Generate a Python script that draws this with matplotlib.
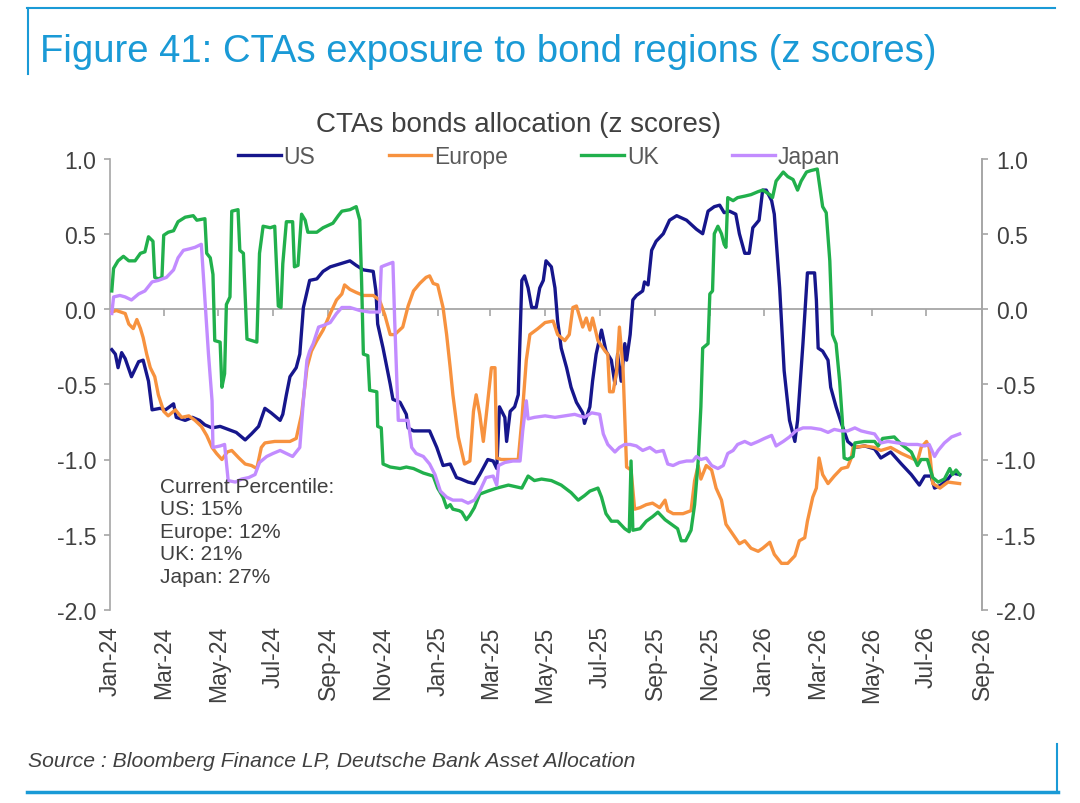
import numpy as np
import pandas as pd
import matplotlib
matplotlib.use("Agg")
import matplotlib.pyplot as plt
import matplotlib.dates as mdates
from matplotlib.lines import Line2D

plt.rcParams['font.family'] = ['Liberation Sans', 'DejaVu Sans']

# ---- data: days since 2024-01-01 and z scores ----
us_day = [2,6,9,13,17,24,32,37,43,47,56,62,71,74,84,92,100,106,114,123,132,141,151,158,166,173,180,190,193,197,201,208,212,216,223,231,238,246,257,268,275,283,294,297,299,305,309,313,316,324,331,333,339,346,357,365,372,380,387,392,400,407,413,422,428,432,435,441,443,447,452,456,460,463,467,471,476,480,484,487,493,497,500,504,510,515,521,528,530,536,539,543,549,554,560,564,567,571,575,577,581,584,588,595,597,601,605,610,618,625,633,644,655,662,668,675,681,686,692,699,703,709,714,718,725,729,733,739,742,748,753,759,765,768,774,779,787,789,791,796,802,805,811,817,824,832,843,854,861,872,884,895,904,910,917,921,928,936,941,949]
us_val = [-0.27,-0.30,-0.39,-0.29,-0.33,-0.45,-0.35,-0.34,-0.48,-0.67,-0.66,-0.67,-0.63,-0.72,-0.74,-0.72,-0.74,-0.77,-0.79,-0.78,-0.80,-0.82,-0.87,-0.83,-0.78,-0.66,-0.69,-0.74,-0.70,-0.57,-0.45,-0.39,-0.30,0.01,0.19,0.20,0.25,0.28,0.30,0.32,0.29,0.26,0.25,0.12,-0.10,-0.26,-0.38,-0.50,-0.60,-0.62,-0.70,-0.79,-0.81,-0.81,-0.81,-0.92,-1.04,-1.03,-1.12,-1.13,-1.15,-1.16,-1.10,-1.00,-1.01,-1.06,-0.65,-0.72,-0.88,-0.68,-0.65,-0.57,0.19,0.22,0.14,0.01,0.01,0.14,0.19,0.32,0.28,0.14,-0.08,-0.26,-0.39,-0.52,-0.62,-0.69,-0.76,-0.65,-0.48,-0.30,-0.14,-0.28,-0.34,-0.50,-0.30,-0.48,-0.23,-0.34,-0.17,0.06,0.09,0.12,0.18,0.16,0.39,0.45,0.50,0.59,0.62,0.59,0.53,0.50,0.65,0.68,0.69,0.64,0.65,0.63,0.50,0.37,0.37,0.54,0.59,0.79,0.79,0.72,0.63,0.14,-0.41,-0.74,-0.88,-0.74,-0.23,0.24,0.24,0.06,-0.26,-0.28,-0.34,-0.52,-0.65,-0.76,-0.88,-0.92,-0.91,-0.93,-0.99,-0.95,-1.03,-1.10,-1.17,-1.11,-1.11,-1.19,-1.17,-1.13,-1.09,-1.10]

europe_day = [2,7,17,21,26,30,34,37,41,45,50,54,60,65,73,80,88,95,102,108,114,119,125,131,136,144,151,158,164,169,173,184,195,201,208,214,220,225,231,238,246,253,259,262,268,275,283,294,301,307,313,318,327,333,339,346,353,357,361,366,372,376,380,383,389,396,402,406,409,413,417,420,426,430,432,437,456,460,465,469,478,486,495,500,508,513,517,521,525,528,532,536,539,545,553,556,558,562,566,569,573,577,582,586,592,599,606,614,620,623,629,640,649,653,657,660,666,672,677,683,688,696,703,709,716,724,729,737,742,750,757,765,770,776,779,785,789,792,796,802,809,817,824,828,830,843,854,861,872,884,895,902,906,912,915,919,927,936,949]
europe_val = [-0.02,-0.01,-0.03,-0.10,-0.13,-0.07,-0.13,-0.19,-0.30,-0.39,-0.45,-0.57,-0.68,-0.71,-0.67,-0.72,-0.71,-0.74,-0.78,-0.84,-0.92,-0.96,-1.00,-0.95,-0.94,-0.99,-1.03,-1.04,-1.06,-0.92,-0.89,-0.88,-0.88,-0.88,-0.86,-0.70,-0.39,-0.28,-0.21,-0.14,-0.03,0.06,0.10,0.16,0.13,0.11,0.09,0.09,0.06,-0.04,-0.17,-0.17,-0.12,0.02,0.12,0.17,0.21,0.22,0.17,0.16,0.01,-0.17,-0.39,-0.57,-0.85,-1.03,-1.01,-0.68,-0.57,-0.70,-0.88,-0.72,-0.39,-0.39,-0.99,-1.00,-1.00,-0.74,-0.34,-0.17,-0.13,-0.09,-0.08,-0.17,-0.21,-0.17,0.01,0.02,-0.06,-0.12,-0.06,-0.14,-0.06,-0.21,-0.28,-0.30,-0.55,-0.55,-0.41,-0.12,-0.39,-1.05,-1.07,-1.33,-1.32,-1.30,-1.29,-1.32,-1.27,-1.34,-1.36,-1.36,-1.34,-1.14,-1.04,-1.13,-1.04,-1.07,-1.19,-1.27,-1.43,-1.50,-1.56,-1.54,-1.59,-1.61,-1.59,-1.55,-1.63,-1.69,-1.69,-1.64,-1.54,-1.52,-1.41,-1.25,-1.19,-0.99,-1.10,-1.16,-1.11,-1.06,-1.05,-0.99,-0.92,-0.91,-0.92,-0.94,-0.92,-0.96,-0.99,-1.01,-0.92,-0.88,-0.92,-1.16,-1.19,-1.15,-1.16]

uk_day = [2,4,9,15,21,28,34,39,43,48,50,54,58,60,65,71,76,84,93,97,106,108,112,115,117,123,125,128,130,134,136,143,145,149,153,164,167,171,179,184,188,191,193,197,204,206,210,214,218,221,231,238,249,255,259,268,275,279,281,283,288,290,298,299,303,305,313,324,331,339,350,361,366,372,376,380,383,390,393,398,402,407,413,422,432,445,460,467,474,482,493,504,515,523,530,536,545,549,554,560,567,575,580,582,584,592,599,606,612,620,627,634,638,643,649,653,657,660,662,668,670,673,675,679,683,686,688,690,696,701,709,716,724,729,737,740,744,752,757,763,768,772,778,783,790,796,800,804,807,811,815,818,820,824,830,832,843,854,858,863,876,884,895,902,906,913,919,925,932,938,941,945,949]
uk_val = [0.12,0.27,0.32,0.35,0.32,0.32,0.37,0.38,0.48,0.45,0.21,0.20,0.21,0.49,0.51,0.52,0.58,0.61,0.62,0.59,0.60,0.37,0.34,0.23,-0.21,-0.22,-0.52,-0.43,0.03,0.08,0.65,0.66,0.39,0.37,-0.20,-0.22,0.37,0.55,0.54,0.55,0.02,0.01,0.30,0.58,0.58,0.28,0.29,0.63,0.59,0.51,0.51,0.54,0.57,0.62,0.65,0.66,0.68,0.59,0.19,-0.30,-0.31,-0.54,-0.55,-0.78,-0.79,-1.03,-1.05,-1.06,-1.05,-1.06,-1.09,-1.11,-1.19,-1.25,-1.32,-1.30,-1.33,-1.34,-1.35,-1.40,-1.37,-1.32,-1.23,-1.21,-1.19,-1.17,-1.19,-1.11,-1.14,-1.13,-1.14,-1.17,-1.22,-1.27,-1.24,-1.21,-1.19,-1.25,-1.36,-1.41,-1.41,-1.46,-1.48,-1.01,-1.47,-1.46,-1.41,-1.38,-1.35,-1.40,-1.43,-1.46,-1.54,-1.54,-1.47,-1.30,-1.01,-0.65,-0.26,-0.23,0.10,0.12,0.50,0.55,0.50,0.43,0.41,0.74,0.72,0.74,0.75,0.76,0.78,0.79,0.76,0.74,0.85,0.91,0.88,0.86,0.79,0.85,0.91,0.92,0.93,0.68,0.64,0.32,-0.17,-0.23,-0.48,-0.74,-0.99,-1.00,-0.98,-0.89,-0.88,-0.88,-0.91,-0.86,-0.85,-0.90,-0.95,-1.04,-1.00,-1.00,-1.12,-1.15,-1.13,-1.06,-1.10,-1.07,-1.10]

japan_day = [2,4,11,17,24,32,39,47,54,63,71,76,82,89,95,102,106,110,114,115,123,128,132,140,147,155,162,167,175,182,190,197,204,212,216,220,223,227,233,238,246,253,259,268,279,290,301,303,307,316,318,320,322,333,337,342,350,357,363,369,376,383,393,400,407,413,420,428,432,434,441,450,458,461,465,467,474,486,497,508,519,530,538,547,551,556,564,569,575,581,588,595,603,610,618,623,629,636,644,651,655,660,666,672,679,685,690,696,701,709,716,724,731,739,744,752,759,766,774,783,794,802,809,817,824,832,839,846,854,861,869,880,891,902,910,915,921,925,932,940,949]
japan_val = [-0.03,0.08,0.09,0.08,0.06,0.10,0.12,0.18,0.19,0.21,0.26,0.34,0.39,0.40,0.41,0.43,0.06,-0.30,-0.61,-0.92,-0.91,-0.90,-1.14,-1.15,-1.13,-1.12,-1.10,-1.02,-0.98,-0.96,-0.94,-0.96,-0.98,-0.92,-0.61,-0.34,-0.28,-0.23,-0.12,-0.11,-0.09,-0.03,0.01,0.01,-0.01,-0.02,-0.02,0.28,0.29,0.31,-0.08,-0.41,-0.74,-0.74,-0.92,-0.96,-0.98,-1.03,-1.10,-1.21,-1.25,-1.27,-1.27,-1.29,-1.27,-1.21,-1.12,-1.11,-1.17,-1.04,-1.02,-1.01,-1.01,-0.81,-0.61,-0.73,-0.72,-0.71,-0.72,-0.71,-0.70,-0.72,-0.69,-0.70,-0.83,-0.90,-0.95,-0.92,-0.90,-0.90,-0.91,-0.94,-0.92,-0.95,-0.94,-1.03,-1.04,-1.02,-1.01,-1.01,-0.98,-1.00,-0.99,-1.04,-1.06,-1.04,-0.96,-0.94,-0.90,-0.88,-0.90,-0.88,-0.86,-0.84,-0.91,-0.88,-0.85,-0.81,-0.79,-0.79,-0.80,-0.82,-0.80,-0.81,-0.81,-0.79,-0.81,-0.82,-0.83,-0.89,-0.88,-0.89,-0.90,-0.90,-0.91,-0.90,-0.98,-0.94,-0.89,-0.85,-0.83]

series_names = ['US', 'Europe', 'UK', 'Japan']
series_colors = ['#16168c', '#f7923f', '#21b04c', '#c28cff']
percentiles = ['US: 15%', 'Europe: 12%', 'UK: 21%', 'Japan: 27%']
y_ticks = [-2.0, -1.5, -1.0, -0.5, 0.0, 0.5, 1.0]

base = pd.Timestamp('2024-01-01')
def to_dates(days):
    return base + pd.to_timedelta(np.array(days), unit='D')

series = [(us_day, us_val), (europe_day, europe_val), (uk_day, uk_val), (japan_day, japan_val)]

W, H = 1080, 804
fig = plt.figure(figsize=(W / 100, H / 100), dpi=100)
fig.patch.set_facecolor('white')

ax = fig.add_axes([110 / W, 1 - 611 / H, (982 - 110) / W, (611 - 159.5) / H])
gray = '#a6a6a6'
txt = '#404040'

ax.axhline(0, color=gray, lw=1.3, zorder=1)
tick_dates = pd.date_range('2024-03-01', '2026-09-01', freq='2MS')
ax.plot(tick_dates, np.zeros(len(tick_dates)), ls='none', marker=3, ms=5,
        mew=1.2, color=gray, zorder=1)

handles = []
for (d, v), name, col in zip(series, series_names, series_colors):
    ln, = ax.plot(to_dates(d), v, color=col, lw=2.4, label=name, zorder=3,
                  solid_joinstyle='round')
    handles.append(ln)

ax.set_xlim(pd.Timestamp('2024-01-01'), pd.Timestamp('2026-09-01'))
ax.set_ylim(-2.0, 1.0)
ax.set_yticks(y_ticks)
ax.set_yticklabels([f'{t:.1f}' for t in y_ticks])
ax.xaxis.set_major_locator(mdates.MonthLocator(bymonth=[1, 3, 5, 7, 9, 11]))
ax.xaxis.set_major_formatter(mdates.DateFormatter('%b-%y'))
for lab in ax.get_xticklabels():
    lab.set_rotation(90)
ax.tick_params(axis='x', length=0, pad=11, labelsize=16.5, labelcolor=txt)
ax.tick_params(axis='y', direction='out', length=4, width=1.2, color=gray,
               labelsize=16.5, labelcolor=txt, pad=6)
for s in ['top', 'bottom']:
    ax.spines[s].set_visible(False)
for s in ['left', 'right']:
    ax.spines[s].set_color(gray)
    ax.spines[s].set_linewidth(1.2)

ax2 = ax.twinx()
ax2.set_ylim(-2.0, 1.0)
ax2.set_yticks(y_ticks)
ax2.set_yticklabels([f'{t:.1f}' for t in y_ticks])
ax2.tick_params(axis='y', direction='out', length=4, width=1.2, color=gray,
                labelsize=16.5, labelcolor=txt, pad=6)
for s in ['top', 'bottom', 'left']:
    ax2.spines[s].set_visible(False)
ax2.spines['right'].set_color(gray)
ax2.spines['right'].set_linewidth(1.2)

fig.legend(handles, series_names, loc='center', bbox_to_anchor=(539 / W, 1 - 158 / H),
           ncol=4, frameon=False, fontsize=16.5, handlelength=1.87,
           handletextpad=0.12, columnspacing=3.2, labelcolor='#595959',
           borderpad=0, borderaxespad=0)

fig.text(160 / W, 1 - 478 / H, 'Current Percentile:\n' + '\n'.join(percentiles),
         fontsize=15, color=txt, va='top', ha='left', linespacing=1.23)

blue = '#1a9ad6'
fig.text(40 / W, 1 - 62 / H, 'Figure 41: CTAs exposure to bond regions (z scores)',
         fontsize=27.5, color=blue, va='baseline', ha='left')
fig.text(519 / W, 1 - 132 / H, 'CTAs bonds allocation (z scores)',
         fontsize=20, color=txt, va='baseline', ha='center')
fig.text(28 / W, 1 - 767 / H, 'Source : Bloomberg Finance LP, Deutsche Bank Asset Allocation',
         fontsize=15.2, color=txt, va='baseline', ha='left', style='italic')

fig.add_artist(Line2D([27 / W, 1055 / W], [1 - 9 / H, 1 - 9 / H], color=blue, lw=1.5,
                      transform=fig.transFigure))
fig.add_artist(Line2D([28 / W, 28 / W], [1 - 9 / H, 1 - 75 / H], color=blue, lw=1.5,
                      transform=fig.transFigure))
fig.add_artist(Line2D([27 / W, 1058 / W], [1 - 793 / H, 1 - 793 / H], color=blue, lw=2.5,
                      transform=fig.transFigure))
fig.add_artist(Line2D([1057 / W, 1057 / W], [1 - 745 / H, 1 - 793 / H], color=blue, lw=1.5,
                      transform=fig.transFigure))

fig.savefig('out.png', dpi=100, facecolor='white')
